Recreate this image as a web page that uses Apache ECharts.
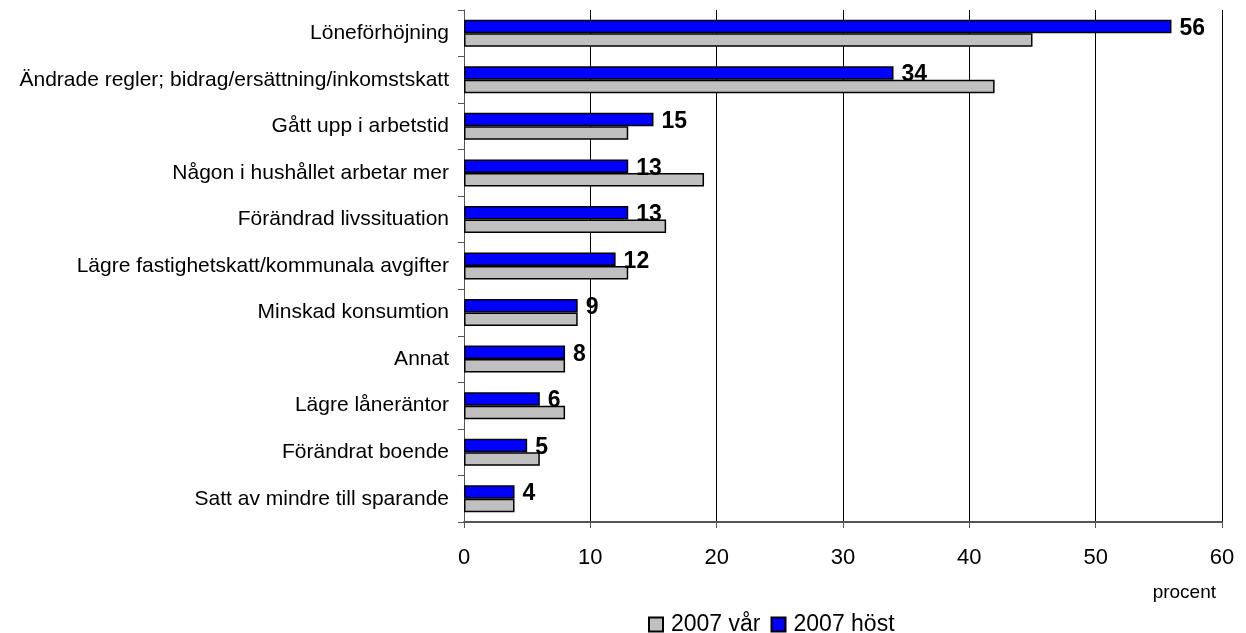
<!DOCTYPE html>
<html>
<head>
<meta charset="utf-8">
<script src="https://cdn.jsdelivr.net/npm/echarts@6/dist/echarts.min.js"></script>
<style>
  html, body { margin: 0; padding: 0; background: #fff; }
  #chart { width: 1246px; height: 633px; }
</style>
</head>
<body>
<div id="chart"></div>
<script>
// kategorier, uppifrån och ned
const categories = [
  'Löneförhöjning',
  'Ändrade regler; bidrag/ersättning/inkomstskatt',
  'Gått upp i arbetstid',
  'Någon i hushållet arbetar mer',
  'Förändrad livssituation',
  'Lägre fastighetskatt/kommunala avgifter',
  'Minskad konsumtion',
  'Annat',
  'Lägre låneräntor',
  'Förändrat boende',
  'Satt av mindre till sparande'
];
const hostValues = [56, 34, 15, 13, 13, 12, 9, 8, 6, 5, 4];
const varValues = [45, 42, 13, 19, 16, 13, 9, 8, 8, 6, 4];
const xTicks = [0, 10, 20, 30, 40, 50, 60];

const myChart = echarts.init(document.getElementById('chart'));
const font = 'Liberation Sans, Arial, sans-serif';

myChart.setOption({
  animation: false,
  textStyle: { fontFamily: font },
  grid: { left: 464, right: 24, top: 10, bottom: 111 },
  legend: {
    data: ['2007 vår', '2007 höst'],
    top: 608,
    left: 643,
    icon: 'rect',
    itemWidth: 14,
    itemHeight: 14,
    itemGap: 10,
    textStyle: { fontSize: 23, color: '#000', fontFamily: font, padding: [0, 0, 0, 3] }
  },
  xAxis: {
    type: 'value',
    min: xTicks[0],
    max: xTicks[xTicks.length - 1],
    interval: 10,
    name: 'procent',
    nameLocation: 'end',
    nameGap: 0,
    nameTextStyle: { fontSize: 19, color: '#000', align: 'right', verticalAlign: 'top', padding: [61, 6, 0, 0] },
    axisLine: { show: true, lineStyle: { color: '#555', width: 2 } },
    axisTick: { show: true, length: 6, lineStyle: { color: '#555' } },
    axisLabel: { fontSize: 22, color: '#000', margin: 25 },
    splitLine: { show: true, lineStyle: { color: '#000', width: 1 } }
  },
  yAxis: {
    type: 'category',
    inverse: true,
    data: categories,
    axisLine: { show: true, lineStyle: { color: '#555', width: 1 } },
    axisTick: { show: true, length: 6, lineStyle: { color: '#555' } },
    axisLabel: { fontSize: 21, color: '#000', margin: 15 }
  },
  series: [
    {
      name: '2007 höst',
      type: 'bar',
      data: hostValues,
      barGap: '0%',
      barCategoryGap: '42%',
      itemStyle: { color: '#0000ff', borderColor: '#000', borderWidth: 1.5 },
      label: {
        show: true,
        position: 'right',
        distance: 8,
        fontSize: 23,
        fontWeight: 'bold',
        color: '#000',
        offset: [0, 2]
      }
    },
    {
      name: '2007 vår',
      type: 'bar',
      data: varValues,
      itemStyle: { color: '#c0c0c0', borderColor: '#000', borderWidth: 1.5 }
    }
  ]
});
</script>
</body>
</html>
